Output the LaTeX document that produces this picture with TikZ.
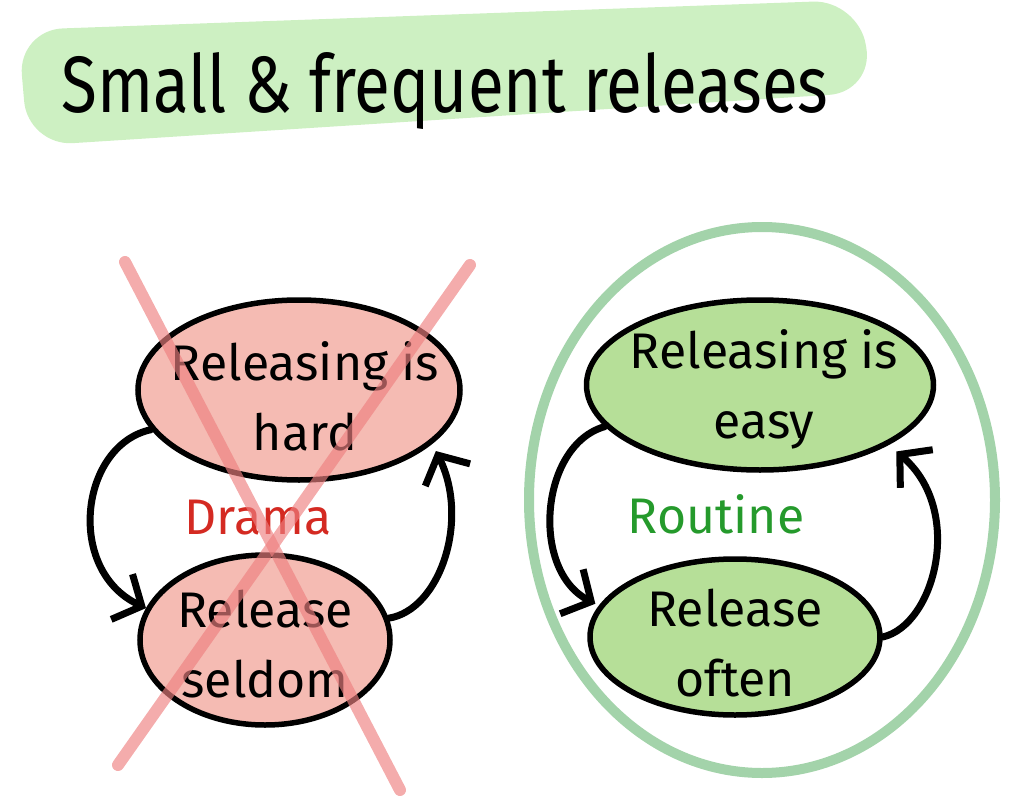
\documentclass[tikz,border=0pt]{standalone}
\usepackage{fontspec}
\setmainfont{Fira Sans}
\usetikzlibrary{arrows.meta,shapes.geometric}
\definecolor{hilite}{HTML}{CDF0C2}
\definecolor{redfill}{HTML}{F5BBB3}
\definecolor{greenfill}{HTML}{B6DF98}
\definecolor{ring}{HTML}{A3D3AA}
\definecolor{cross}{HTML}{EE8080}
\definecolor{drama}{HTML}{D42A22}
\definecolor{routine}{HTML}{259A2C}
\newcommand\titlefont{\fontsize{80}{80}\selectfont}
\newcommand\bubblefont{\fontsize{50}{70}\selectfont}
\newcommand\wordfont{\fontsize{50}{50}\selectfont}

\begin{document}
\begin{tikzpicture}[
  x=1pt,y=-1pt,
  blob/.style={ellipse,draw=black,line width=5.5pt,inner sep=0pt},
  bad/.style={blob,fill=redfill},
  good/.style={blob,fill=greenfill},
  txt/.style={align=center,text=black,inner sep=0pt,font=\bubblefont},
  flow/.style={-{Straight Barb[length=22pt,width=50pt]},line width=7pt,line cap=round},
  strike/.style={cross,line width=12pt,line cap=round,opacity=0.65},
]
\useasboundingbox (0,0) rectangle (1010,800);

% ------------------------------------------------------------------ title
\fill[hilite,rounded corners=45pt] (18,30) -- (858,0) -- (874,92) -- (28,146) -- cycle;
\node[font=\titlefont,anchor=base] (title) at (445,113)
  {\scalebox{0.82}[1]{Small \& frequent releases}};

% ------------------------------------------------------------ drama cycle
\node[bad,minimum width=322pt,minimum height=180pt,
      label={[txt,xshift=6pt,yshift=-6pt]center:Releasing is\\hard}] (hard) at (299,390) {};
\node[bad,minimum width=250pt,minimum height=170pt,
      label={[txt,yshift=-4pt]center:Release\\seldom}] (seldom) at (265,640) {};
\node[text=drama,font=\wordfont] (drama) at (258,518) {Drama};

\draw[flow] (hard.195) .. controls (80,445) and (65,570) .. (seldom.165);
\draw[flow,shorten >=8pt] (seldom.10) .. controls (440,610) and (470,520) .. (hard.-22);

% crossed out
\draw[strike] (125,262) -- (400,790);
\draw[strike] (470,265) -- (118,765);

% ---------------------------------------------------------- routine cycle
\draw[ring,line width=10pt] (762,500) ellipse [x radius=233, y radius=273];

\node[good,minimum width=347pt,minimum height=170pt,
      label={[txt,xshift=4pt,yshift=-4pt]center:Releasing is\\easy}] (easy) at (760,385) {};
\node[good,minimum width=290pt,minimum height=156pt,
      label={[txt,yshift=-6pt]center:Release\\often}] (often) at (735,637) {};
\node[text=routine,font=\wordfont] (routine) at (716,514) {Routine};

\draw[flow,shorten >=4pt] (easy.195) .. controls (540,445) and (530,570) .. (often.167);
\draw[flow,shorten >=10pt] (often.0) .. controls (935,625) and (965,510) .. (easy.-25);

\end{tikzpicture}
\end{document}
